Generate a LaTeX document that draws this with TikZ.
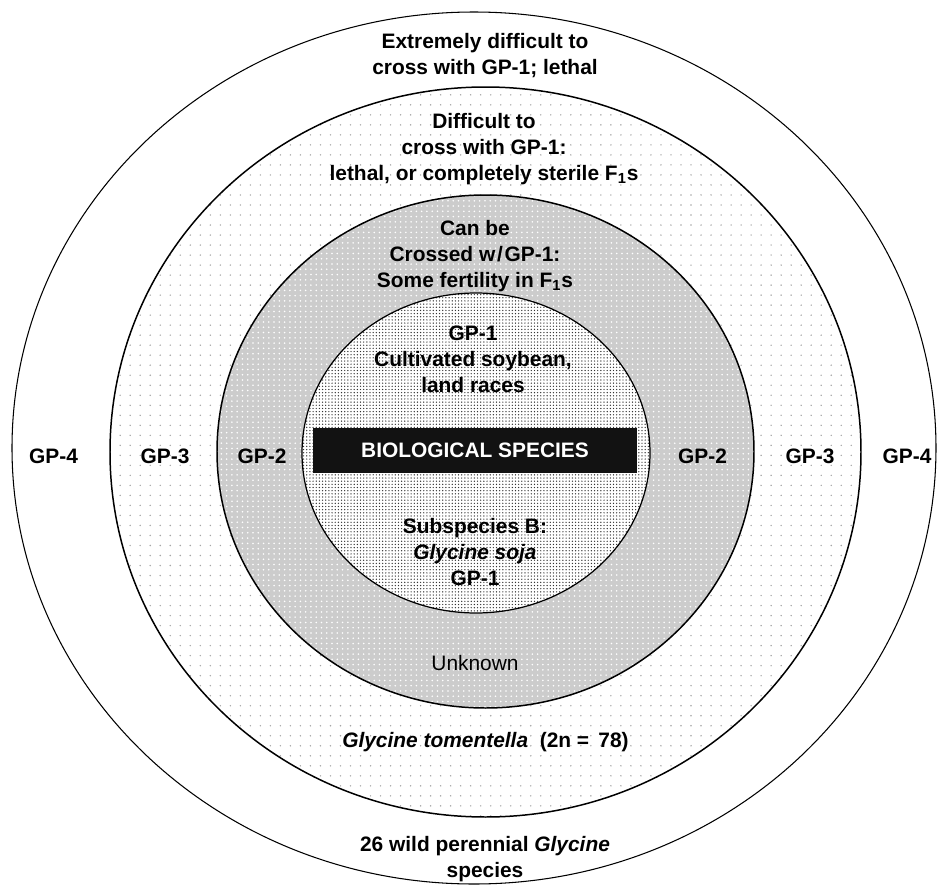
\documentclass[tikz,border=0pt]{standalone}
\usepackage{fontspec}
\setmainfont{Liberation Sans}
\usetikzlibrary{patterns.meta}

\begin{document}
\begin{tikzpicture}[x=0.02cm,y=-0.02cm]
\tikzstyle{lab}=[font=\fontsize{11.9}{14.8}\selectfont\bfseries, align=center, inner sep=0pt]
\tikzstyle{thin}=[font=\fontsize{11.9}{14.8}\selectfont, align=center, inner sep=0pt]
\tikzstyle{ring}=[line width=0.85pt, draw=black]
\tikzstyle{species}=[rectangle, fill=black!93, text=white, minimum width=6.48cm, minimum height=0.9cm, font=\fontsize{11.9}{14.8}\selectfont\bfseries]
\useasboundingbox (0,0) rectangle (938,886);
	\draw[line width=0.6pt, fill=white] (474,448) ellipse [x radius=462, y radius=436];
	\draw[ring, preaction={fill=white}, pattern={Dots[distance=5.7pt, radius=0.45pt]}, pattern color=black!35] (485.5,452) ellipse [x radius=375.5, y radius=365];
	\draw[ring, preaction={fill=black!20}, pattern={Dots[distance=3pt, radius=0.5pt]}, pattern color=white] (485.5,451.5) ellipse [x radius=268.5, y radius=256.5];
	\draw[line width=0.7pt, preaction={fill=white}, pattern={Dots[distance=1.8pt, radius=0.4pt]}, pattern color=black!80] (476,453) ellipse [x radius=174, y radius=160];

	\node[species] (bio) at (475,450.5) {BIOLOGICAL SPECIES};

	\node[lab] (gp4_l) at (53.5,456) {GP-4};
	\node[lab] (gp3_l) at (165,456) {GP-3};
	\node[lab] (gp2_l) at (262,456) {GP-2};
	\node[lab] (gp2_r) at (702.5,456) {GP-2};
	\node[lab] (gp3_r) at (810,456) {GP-3};
	\node[lab] (gp4_r) at (907,456) {GP-4};

	\node[lab] (ext) at (485,56) {Extremely difficult to\\cross with GP-1; lethal};
	\node[lab] (dif) at (484,149) {Difficult to\\cross with GP-1:\\lethal, or completely sterile F\textsubscript{1}s};
	\node[lab] (can) at (475,256) {Can be\\Crossed w\kern1pt/\kern1pt GP-1:\\Some fertility in F\textsubscript{1}s};
	\node[lab] (gp1_a) at (473,359) {GP-1\\Cultivated soybean,\\land races};
	\node[lab] (gp1_b) at (475,552) {Subspecies B:\\\textit{Glycine soja}\\GP-1};
	\node[thin] (unk) at (475,663) {Unknown};
	\node[lab] (tom) at (485.5,742) {\textit{Glycine tomentella}\ \ (2n = \,78)};
	\node[lab] (wild) at (485,859) {26 wild perennial \textit{Glycine}\\species};
\end{tikzpicture}
\end{document}
